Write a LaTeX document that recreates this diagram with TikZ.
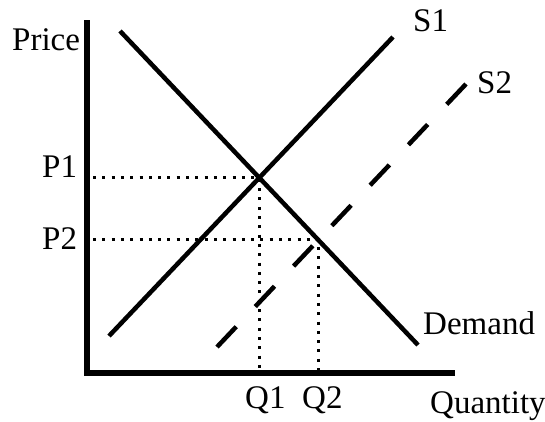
\documentclass[tikz,border=0pt]{standalone}
\usepackage{fontspec}
\setmainfont{Liberation Serif}
\begin{document}
\begin{tikzpicture}[x=1pt,y=-1pt,
  axisline/.style={line width=6pt,line join=miter,line cap=butt},
  curve/.style={line width=4.5pt},
  dashcurve/.style={line width=4.5pt,dash pattern=on 28pt off 27.7pt},
  guide/.style={line width=3pt,dash pattern=on 3pt off 6.3pt},
  lbl/.style={anchor=base west,inner sep=0pt,font=\fontsize{33}{38}\selectfont}]
\useasboundingbox (0,0) rectangle (545,421);
% axis points
\coordinate (ytop) at (87,20);
\coordinate (orig) at (87,373);
\coordinate (xend) at (455,373);
% curves
\coordinate (d1) at (120,31);
\coordinate (d2) at (418,345);
\coordinate (s1a) at (109,336);
\coordinate (s1b) at (393,37);
\coordinate (s2a) at (466,84);
\coordinate (s2b) at (217,347);
\coordinate (e1) at (intersection of d1--d2 and s1a--s1b);
\coordinate (e2) at (intersection of d1--d2 and s2a--s2b);
\coordinate (p1a) at (93,0 |- e1);
\coordinate (p2a) at (93,0 |- e2);
\coordinate (q1a) at (e1 |- orig);
\coordinate (q2a) at (e2 |- orig);
\draw[axisline] (ytop) -- (orig) -- (xend);
\draw[curve] (d1) -- (d2);
\draw[curve] (s1a) -- (s1b);
\draw[dashcurve] (s2a) -- (s2b);
\draw[guide] (p1a) -- (e1) -- (q1a);
\draw[guide] (p2a) -- (e2) -- (q2a);
% labels
\node[lbl] (price) at (12,50) {Price};
\node[lbl] (lp1) at (42,177) {P1};
\node[lbl] (lp2) at (42,249) {P2};
\node[lbl] (ls1) at (413,31) {S1};
\node[lbl] (ls2) at (477,93) {S2};
\node[lbl] (ldem) at (423,334) {Demand};
\node[lbl] (lq1) at (245,408) {Q1};
\node[lbl] (lq2) at (302,408) {Q2};
\node[lbl] (lqty) at (430,413) {Quantity};
\end{tikzpicture}
\end{document}
